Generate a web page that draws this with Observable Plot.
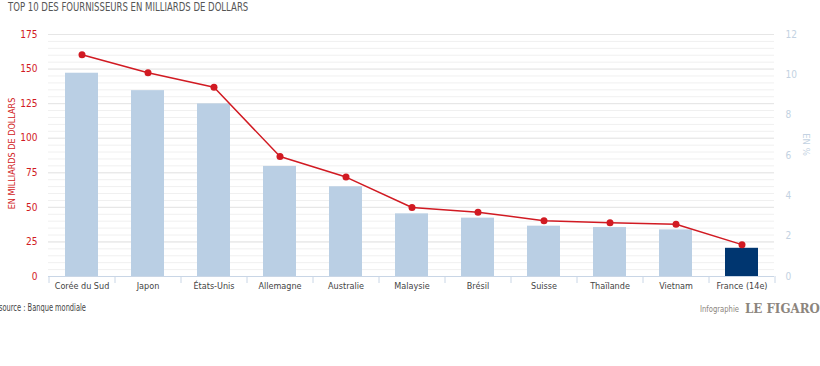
<!DOCTYPE html>
<html>
<head>
<meta charset="utf-8">
<script src="https://cdn.jsdelivr.net/npm/d3@7"></script>
<script src="https://cdn.jsdelivr.net/npm/@observablehq/plot@0.6"></script>
<style>
  html, body { margin: 0; padding: 0; background: #fff; }
  #wrap { position: relative; width: 820px; height: 366px; overflow: hidden; font-family: "DejaVu Sans Condensed", "DejaVu Sans", sans-serif; font-stretch: condensed; }
  #title { position: absolute; left: 8px; top: 0px; font-size: 12px; color: #555; line-height: 15px; white-space: nowrap; transform: scaleX(0.79); transform-origin: 0 0; }
  #chart { position: absolute; left: 0; top: 20px; }
  #source { position: absolute; left: -1px; top: 302px; font-size: 10px; color: #444; white-space: nowrap; transform: scaleX(0.74); transform-origin: 0 0; }
  #info { position: absolute; left: 700px; top: 303px; font-size: 9.5px; color: #8c857d; white-space: nowrap; transform: scaleX(0.8); transform-origin: 0 0; }
  #figaro { position: absolute; left: 745px; top: 301px; font-family: "DejaVu Serif", serif; font-weight: 900; font-size: 13px; color: #8c857d; white-space: nowrap; font-stretch: normal; transform: scaleX(0.91); transform-origin: 0 0; line-height: 16px; }
</style>
</head>
<body>
<div id="wrap">
  <div id="title">TOP 10 DES FOURNISSEURS EN MILLIARDS DE DOLLARS</div>
  <div id="chart"></div>
  <div id="source">source : Banque mondiale</div>
  <div id="info">Infographie</div>
  <div id="figaro">LE FIGARO</div>
</div>
<script>
const categories = ["Corée du Sud","Japon","États-Unis","Allemagne","Australie","Malaysie","Brésil","Suisse","Thaïlande","Vietnam","France (14e)"];
const values = [147, 134.4, 124.8, 79.6, 64.9, 45.3, 42.2, 36.4, 35.4, 33.7, 20.4];
const shares = [11.0, 10.1, 9.38, 5.95, 4.93, 3.42, 3.19, 2.77, 2.67, 2.59, 1.58];
const leftTicks = [0, 25, 50, 75, 100, 125, 150, 175];
const rightTicks = [0, 2, 4, 6, 8, 10, 12];
const gridMinor = d3.range(0, 176, 5);
const highlight = "France (14e)";

const k = 175 / 12;
const data = categories.map((c, i) => ({cat: c, value: values[i], share: shares[i]}));

const red = "#d11a22";
const chart = Plot.plot({
  width: 820,
  height: 282,
  marginTop: 14,
  marginBottom: 26,
  marginLeft: 48,
  marginRight: 46,
  style: {fontFamily: "'DejaVu Sans Condensed', 'DejaVu Sans', sans-serif", fontSize: "10px", background: "#fff"},
  x: {domain: categories, paddingInner: 0.5, paddingOuter: 0.25},
  y: {domain: [0, 175]},
  marks: [
    Plot.ruleY(gridMinor, {stroke: "#f0f0f0", strokeWidth: 1}),
    Plot.ruleY(leftTicks, {stroke: "#e6e6e6", strokeWidth: 1}),
    Plot.barY(data, {x: "cat", y: "value", fill: d => d.cat === highlight ? "#003670" : "#bacfe4"}),
    Plot.ruleY([0], {stroke: "#c9d6e6", strokeWidth: 1}),
    Plot.axisX({tickSize: 7, dx: -33, text: null, stroke: "#c9d6e6", label: null}),
    Plot.axisX([highlight], {tickSize: 7, dx: 33, text: null, stroke: "#c9d6e6", label: null}),
    Plot.axisX({tickSize: 0, tickPadding: 6, fill: "#444", label: null, fontSize: 9}),
    Plot.line(data, {x: "cat", y: d => d.share * k, stroke: red, strokeWidth: 1.5}),
    Plot.dot(data, {x: "cat", y: d => d.share * k, r: 3.5, fill: red, stroke: "none"}),
    Plot.axisY(leftTicks, {anchor: "left", tickSize: 0, tickPadding: 11, fill: red, label: null, fontSize: 10}),
    Plot.axisY(rightTicks.map(v => v * k), {anchor: "right", tickSize: 0, tickPadding: 11, fill: "#c3d2e2", label: null, fontSize: 10, tickFormat: v => String(Math.round(v / k))}),
    Plot.text(["EN MILLIARDS DE DOLLARS"], {frameAnchor: "left", textAnchor: "middle", dx: -36, dy: -2, rotate: -90, fill: red, fontSize: 9}),
    Plot.text(["EN %"], {frameAnchor: "right", textAnchor: "middle", dx: 32, dy: -11, rotate: 90, fill: "#c3d2e2", fontSize: 9.5})
  ]
});
document.getElementById("chart").appendChild(chart);
</script>
</body>
</html>
